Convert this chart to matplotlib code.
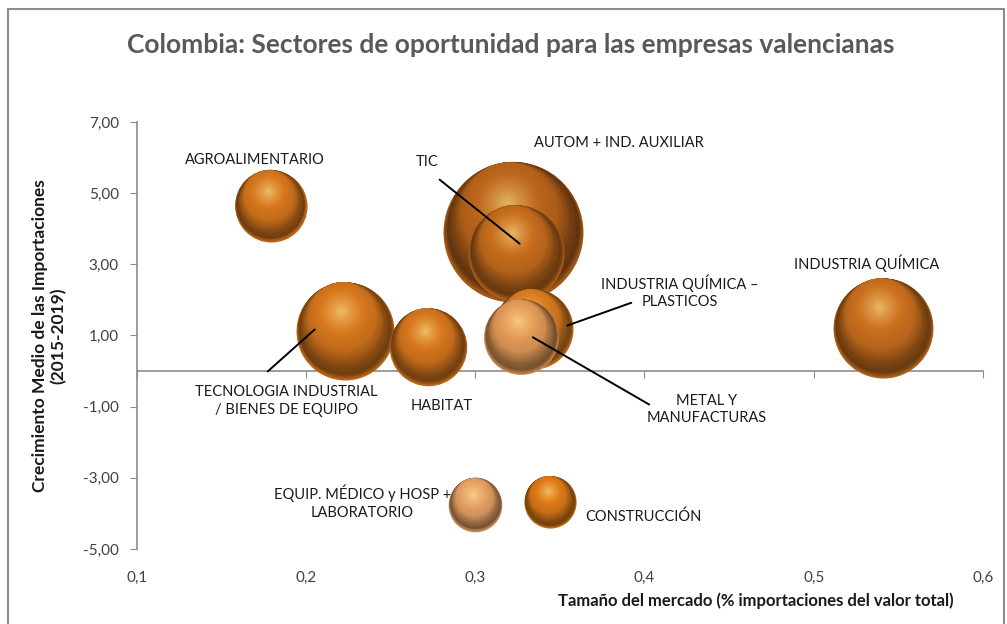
import numpy as np
import matplotlib
matplotlib.use("Agg")
import matplotlib.pyplot as plt
from matplotlib.colors import LinearSegmentedColormap, to_rgb
from matplotlib.transforms import offset_copy
from matplotlib.patches import Rectangle
from matplotlib.ticker import FuncFormatter

plt.rcParams['font.family'] = ['Lato', 'DejaVu Sans']

# datos
sectores = ['AUTOM + IND. AUXILIAR', 'TIC', 'AGROALIMENTARIO', 'TECNOLOGIA INDUSTRIAL\n/ BIENES DE EQUIPO',
            'HABITAT', 'INDUSTRIA QUÍMICA –\nPLASTICOS', 'METAL Y\nMANUFACTURAS', 'INDUSTRIA QUÍMICA',
            'EQUIP. MÉDICO y HOSP +\nLABORATORIO', 'CONSTRUCCIÓN']
tamano_mercado = [0.3225, 0.324, 0.179, 0.223, 0.272, 0.334, 0.327, 0.541, 0.300, 0.344]
crecimiento = [3.92, 3.33, 4.65, 1.14, 0.69, 1.19, 0.97, 1.22, -3.75, -3.67]
peso = [4.9, 2.3, 1.3, 2.4, 1.5, 1.6, 1.4, 2.5, 0.72, 0.68]
x_ticks = [0.1, 0.2, 0.3, 0.4, 0.5, 0.6]
y_ticks = [-5, -3, -1, 1, 3, 5, 7]

# estilo de cada burbuja
colores = ['#bd661c', '#c86e1e', '#d8781e', '#d8781e', '#d8781e', '#de7e22',
           '#e69c5a', '#cc711e', '#e8a468', '#e07c18']
# posicion de etiquetas (x, y) y linea guia (inicio, fin)
pos_etiqueta = [(0.3851, 6.42), (0.2718, 5.87), (0.1697, 5.94), (0.1885, -0.83), (0.2800, -0.97),
                (0.4211, 2.23), (0.4365, -1.08), (0.5315, 3.02), (0.2334, -3.69), (0.3993, -4.09)]
lineas = {1: ((0.2789, 5.38), (0.3262, 3.58)),
          3: ((0.1773, -0.01), (0.2051, 1.17)),
          5: ((0.3922, 1.92), (0.3544, 1.28)),
          6: ((0.4028, -0.94), (0.3340, 0.95))}

fig = plt.figure(figsize=(10.07, 6.24), dpi=100)
ax = fig.add_axes([0.136, 0.1202, 0.840, 0.6843])
ax.set_xlim(0.1, 0.6)
ax.set_ylim(-5, 7)

k = 2073  # escala de tamano (puntos^2)


def esfera(x, y, s, base, z):
    r = np.sqrt(s) / 2
    b = np.array(to_rgb(base))
    luz = np.array([1.0, 0.92, 0.6])
    cmap = LinearSegmentedColormap.from_list('e', [
        (0.0, b + (luz - b) * 0.6),
        (0.2, b + (luz - b) * 0.3),
        (0.45, b),
        (0.7, b * 0.9),
        (0.86, b * 0.62),
        (0.95, b * 0.5),
        (1.0, b * 0.85)])
    n = 50
    for i in range(n):
        f = 1 - i / n
        d = min(1 - f, 0.42) * r
        tr = offset_copy(ax.transData, fig=fig, x=-0.2 * d, y=0.97 * d, units='points')
        ax.scatter([x], [y], s=(2 * r * f) ** 2, color=cmap(f), transform=tr,
                   linewidths=0, zorder=z + i * 0.001)


for i in range(len(sectores)):
    esfera(tamano_mercado[i], crecimiento[i], peso[i] * k, colores[i], 3 + i)

for i, nombre in enumerate(sectores):
    ax.text(pos_etiqueta[i][0], pos_etiqueta[i][1], nombre, ha='center', va='center',
            fontsize=10.5, color='#1a1a1a', zorder=20, linespacing=1.35)

for i, (p0, p1) in lineas.items():
    ax.annotate('', xy=p1, xytext=p0,
                arrowprops=dict(arrowstyle='-', color='black', lw=1.4, shrinkA=0, shrinkB=0),
                zorder=25)

# ejes
for lado in ['top', 'right']:
    ax.spines[lado].set_visible(False)
ax.spines['left'].set_color('#8c8c8c')
ax.spines['left'].set_linewidth(1.2)
ax.spines['bottom'].set_position(('data', 0))
ax.spines['bottom'].set_color('#8c8c8c')
ax.spines['bottom'].set_linewidth(1.2)
ax.set_xticks(x_ticks)
ax.set_yticks(y_ticks)
ax.tick_params(axis='x', direction='out', length=5, color='#8c8c8c', labelbottom=False)
ax.tick_params(axis='y', direction='out', length=5, color='#8c8c8c', labelsize=11,
               labelcolor='#404040', pad=8)
ax.yaxis.set_major_formatter(FuncFormatter(lambda v, p: f'{v:.2f}'.replace('.', ',')))

sec = ax.secondary_xaxis(0.0)
sec.set_xticks(x_ticks)
sec.xaxis.set_major_formatter(FuncFormatter(lambda v, p: f'{v:.1f}'.replace('.', ',')))
sec.tick_params(length=0, labelsize=11, labelcolor='#404040', pad=16)
sec.spines['bottom'].set_visible(False)

ax.set_ylabel('Crecimiento Medio de las Importaciones\n(2015-2019)', fontsize=12.5,
              fontweight='bold', color='#1a1a1a', labelpad=12, linespacing=1.15)
fig.text(0.947, 0.038, 'Tamaño del mercado (% importaciones del valor total)', ha='right',
         va='center', fontsize=12, fontweight='bold', color='#1a1a1a')

fig.text(0.507, 0.928, 'Colombia: Sectores de oportunidad para las empresas valencianas',
         ha='center', va='center', fontsize=19, fontweight='bold', color='#595959')

fig.patches.append(Rectangle((0.008, -0.01), 0.989, 0.996, transform=fig.transFigure,
                             fill=False, edgecolor='#8c8c8c', lw=1.5))

fig.savefig('out.png', dpi=100)
